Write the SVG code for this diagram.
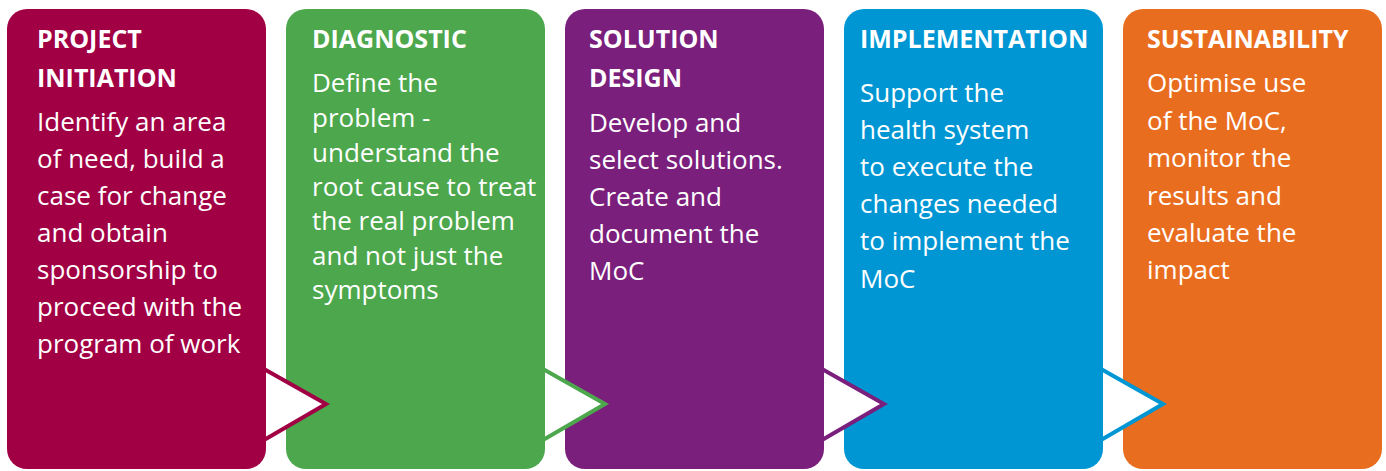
<svg xmlns="http://www.w3.org/2000/svg" width="1386" height="471" viewBox="0 0 1386 471">
<style>
.box{stroke:none}
.h{font-family:"Open Sans","Liberation Sans",sans-serif;font-weight:bold;font-size:25px;fill:#fff}
.b{font-family:"Open Sans","Liberation Sans",sans-serif;font-size:26px;fill:#fff}
.tri{fill:#fff;stroke-width:4;stroke-linejoin:miter}
</style>
<rect width="1386" height="471" fill="#fff"/>
<g id="node-initiation">
<rect class="box" x="7" y="9" width="259" height="460" rx="20" fill="#A10044"/>
<text class="h" x="37" y="48">PROJECT</text>
<text class="h" x="37" y="87">INITIATION</text>
<text class="b" x="37" y="131">Identify an area</text>
<text class="b" x="37" y="168">of need, build a</text>
<text class="b" x="37" y="205">case for change</text>
<text class="b" x="37" y="242">and obtain</text>
<text class="b" x="37" y="279">sponsorship to</text>
<text class="b" x="37" y="316">proceed with the</text>
<text class="b" x="37" y="353">program of work</text>
</g>
<g id="node-diagnostic">
<rect class="box" x="286" y="9" width="259" height="460" rx="20" fill="#4DA74D"/>
<text class="h" x="312" y="48">DIAGNOSTIC</text>
<text class="b" x="312" y="92">Define the</text>
<text class="b" x="312" y="127">problem -</text>
<text class="b" x="312" y="162">understand the</text>
<text class="b" x="312" y="196">root cause to treat</text>
<text class="b" x="312" y="230">the real problem</text>
<text class="b" x="312" y="265">and not just the</text>
<text class="b" x="312" y="299">symptoms</text>
</g>
<g id="node-solution">
<rect class="box" x="565" y="9" width="259" height="460" rx="20" fill="#7A1F7C"/>
<text class="h" x="589" y="48">SOLUTION</text>
<text class="h" x="589" y="87">DESIGN</text>
<text class="b" x="589" y="132">Develop and</text>
<text class="b" x="589" y="169">select solutions.</text>
<text class="b" x="589" y="206">Create and</text>
<text class="b" x="589" y="243">document the</text>
<text class="b" x="589" y="280">MoC</text>
</g>
<g id="node-implementation">
<rect class="box" x="844" y="9" width="259" height="460" rx="20" fill="#0096D3"/>
<text class="h" x="860" y="48">IMPLEMENTATION</text>
<text class="b" x="860" y="102">Support the</text>
<text class="b" x="860" y="139">health system</text>
<text class="b" x="860" y="176">to execute the</text>
<text class="b" x="860" y="213">changes needed</text>
<text class="b" x="860" y="250">to implement the</text>
<text class="b" x="860" y="288">MoC</text>
</g>
<g id="node-sustainability">
<rect class="box" x="1123" y="9" width="259" height="460" rx="20" fill="#E96D1F"/>
<text class="h" x="1147" y="48">SUSTAINABILITY</text>
<text class="b" x="1147" y="92">Optimise use</text>
<text class="b" x="1147" y="130">of the MoC,</text>
<text class="b" x="1147" y="167">monitor the</text>
<text class="b" x="1147" y="205">results and</text>
<text class="b" x="1147" y="242">evaluate the</text>
<text class="b" x="1147" y="279">impact</text>
</g>
<g id="connectors">
<polygon class="tri" points="264,369 326,404 264,440" stroke="#A10044"/>
<polygon class="tri" points="543,369 605,404 543,440" stroke="#4DA74D"/>
<polygon class="tri" points="822,369 884,404 822,440" stroke="#7A1F7C"/>
<polygon class="tri" points="1101,369 1163,404 1101,440" stroke="#0096D3"/>
</g>
</svg>
